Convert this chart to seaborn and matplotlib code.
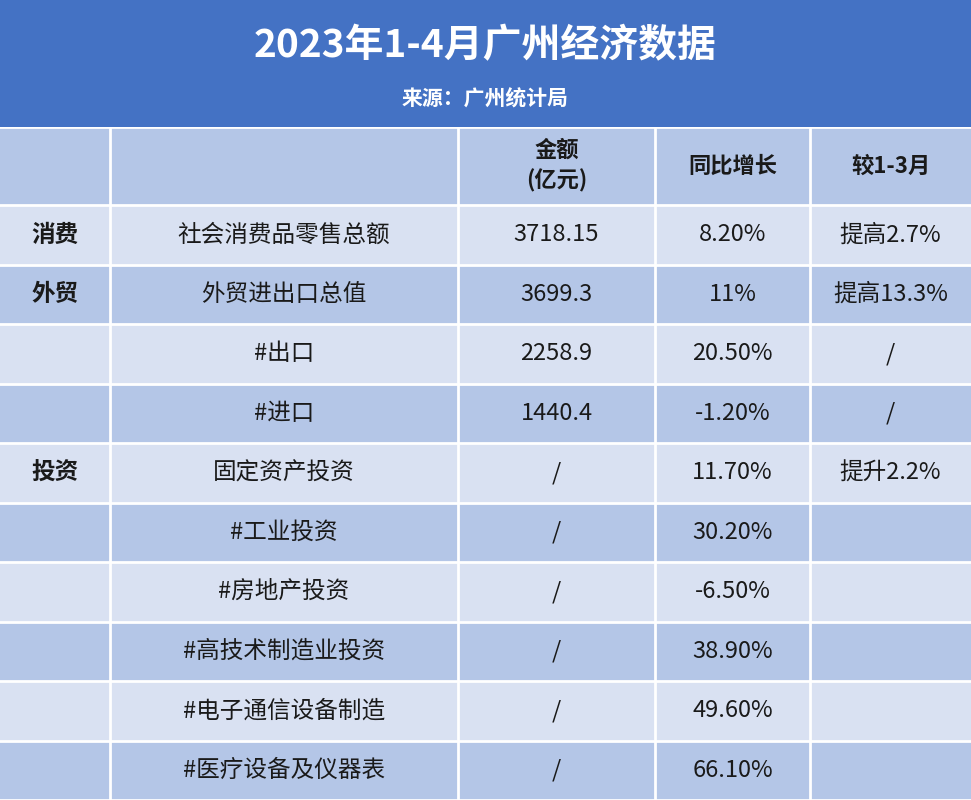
import matplotlib
matplotlib.use("Agg")
import matplotlib.pyplot as plt
from matplotlib.colors import ListedColormap
import seaborn as sns
import numpy as np

title = "2023年1-4月广州经济数据"
source = "来源：广州统计局"
headers = ["", "", "金额\n(亿元)", "同比增长", "较1-3月"]
groups = ["消费", "外贸", "", "", "投资", "", "", "", "", ""]
items = ["社会消费品零售总额", "外贸进出口总值", "#出口", "#进口", "固定资产投资",
         "#工业投资", "#房地产投资", "#高技术制造业投资", "#电子通信设备制造", "#医疗设备及仪器表"]
amounts = ["3718.15", "3699.3", "2258.9", "1440.4", "/", "/", "/", "/", "/", "/"]
growth = ["8.20%", "11%", "20.50%", "-1.20%", "11.70%", "30.20%", "-6.50%", "38.90%", "49.60%", "66.10%"]
vs_q1 = ["提高2.7%", "提高13.3%", "/", "/", "提升2.2%", "", "", "", "", ""]

plt.rcParams["font.family"] = "Noto Sans CJK SC"
W, H = 971, 800
fig = plt.figure(figsize=(9.71, 8.0), dpi=100)
fig.patch.set_facecolor("white")

col_edges = [0, 110, 458, 655, 810, 971]
widths = np.diff(col_edges)

def px_ax(x0, y0, x1, y1):
    return fig.add_axes([x0 / W, 1 - y1 / H, (x1 - x0) / W, (y1 - y0) / H])

# title band
ax_t = px_ax(0, 0, W, 127)
sns.heatmap(np.zeros((1, 1)), ax=ax_t, cmap=ListedColormap(["#4472c4"]), cbar=False,
            xticklabels=False, yticklabels=False)
ax_t.text(0.5, 0.64, title, transform=ax_t.transAxes, ha="center", va="center",
          color="white", fontsize=28, fontweight="bold")
ax_t.text(0.5, 0.22, source, transform=ax_t.transAxes, ha="center", va="center",
          color="white", fontsize=15, fontweight="bold")

# header + data using column-width weighted grid (1 unit = 1 px column)
def table_ax(y0, y1, nrows, color_rows):
    ax = px_ax(0, y0, W, y1)
    mat = np.repeat(np.array(color_rows)[:, None], W, axis=1)
    sns.heatmap(mat, ax=ax, cmap=ListedColormap(["#d9e1f2", "#b4c6e7"]), vmin=0, vmax=1,
                cbar=False, xticklabels=False, yticklabels=False)
    for e in col_edges[1:-1]:
        ax.axvline(e, color="white", lw=2)
    for r in range(nrows + 1):
        ax.axhline(r, color="white", lw=2)
    ax.set_xlim(0, W)
    ax.set_ylim(nrows, 0)
    return ax

ax_h = table_ax(127, 205, 1, [1])
for i, h in enumerate(headers):
    cx = (col_edges[i] + col_edges[i + 1]) / 2
    ax_h.text(cx, 0.5, h, ha="center", va="center", fontsize=16, fontweight="bold",
              color="#1a1a1a", linespacing=1.4)

n = len(items)
ax_d = table_ax(205, 800, n, [i % 2 for i in range(n)])
cols = [groups, items, amounts, growth, vs_q1]
for r in range(n):
    for c, data in enumerate(cols):
        cx = (col_edges[c] + col_edges[c + 1]) / 2
        ax_d.text(cx, r + 0.5, data[r], ha="center", va="center",
                  fontsize=17, fontweight="bold" if c == 0 else "normal", color="#1a1a1a")

fig.savefig("out.png", dpi=100)
